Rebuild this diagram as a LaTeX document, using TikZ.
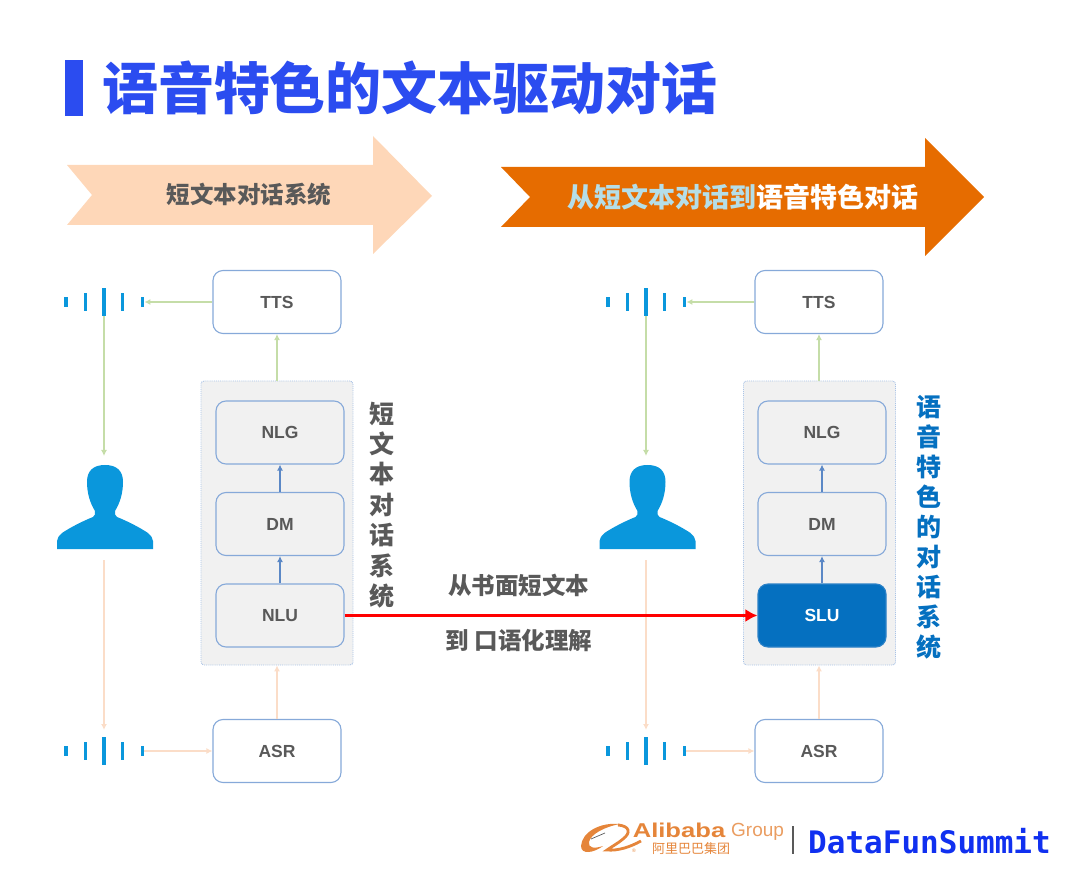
\documentclass[tikz,border=0pt]{standalone}
\usepackage{fontspec}
\setmainfont{Liberation Sans}
\newfontfamily\cjk{Noto Sans CJK SC}
\newfontfamily\logomono{DejaVu Sans Mono}
\usetikzlibrary{arrows.meta}
\definecolor{titleblue}{HTML}{2B4CF0}
\definecolor{textgray}{HTML}{595959}
\definecolor{wireblue}{HTML}{86A9D9}
\definecolor{dotblue}{HTML}{A9C3E6}
\definecolor{darkblue}{HTML}{5B88C6}
\definecolor{boxgray}{HTML}{F1F1F1}
\definecolor{iconblue}{HTML}{0A97DC}
\definecolor{slublue}{HTML}{0570C0}
\definecolor{lightgreen}{HTML}{C5DDA8}
\definecolor{lightpeach}{HTML}{FBDDC8}
\definecolor{peachfill}{HTML}{FED7B8}
\definecolor{orangefill}{HTML}{E66C00}
\definecolor{paleblue}{HTML}{B5DEE8}
\definecolor{aliorange}{HTML}{E5853A}
\definecolor{funblue}{HTML}{1030F0}
\tikzset{
    x=1pt, y=-1pt,
    modbox/.style={draw=wireblue, line width=1.1pt, rounded corners=10pt, fill=#1, minimum width=128pt, minimum height=63pt, inner sep=0pt,
        font=\fontsize{17.5}{20}\selectfont\bfseries, text=textgray},
    modbox/.default=white,
    groupbox/.style={draw=dotblue, densely dotted, line width=0.9pt, rounded corners=3pt, fill=boxgray, minimum width=152pt, minimum height=284pt, inner sep=0pt},
    bar/.style={fill=iconblue, minimum width=3.5pt, inner sep=0pt},
    greenline/.style={-{Latex[length=6pt,width=6pt]}, draw=lightgreen, line width=1.6pt},
    peachline/.style={-{Latex[length=6pt,width=6pt]}, draw=lightpeach, line width=1.6pt},
    blueline/.style={-{Latex[length=6pt,width=6pt]}, draw=darkblue, line width=1.4pt},
    vlabel/.style={font=\fontsize{25}{30.4}\selectfont\cjk\bfseries, align=center, inner sep=0pt},
    midlabel/.style={font=\fontsize{23.5}{26}\selectfont\cjk\bfseries, text=textgray, inner sep=0pt},
    soundwave/.pic={
        \node[bar, minimum height=10pt] (-a) at (-38,0) {};
        \node[bar, minimum height=18pt] (-b) at (-18.5,0) {};
        \node[bar, minimum height=28pt] (-c) at (0,0) {};
        \node[bar, minimum height=18pt] (-d) at (18.5,0) {};
        \node[bar, minimum height=10pt] (-e) at (38.5,0) {};
    },
    person/.pic={
        \fill[iconblue] (0,0) .. controls (12,0) and (18,6) .. (18,17)
            .. controls (18,28) and (15,38) .. (10,46)
            .. controls (10,49) and (10,51) .. (12,52)
            .. controls (22,56) and (34,62) .. (43,68)
            .. controls (46,71) and (48,73) .. (48,76) -- (48,84) -- (-48,84) -- (-48,76)
            .. controls (-48,73) and (-46,71) .. (-43,68)
            .. controls (-34,62) and (-22,56) .. (-12,52)
            .. controls (-10,51) and (-10,49) .. (-10,46)
            .. controls (-15,38) and (-18,28) .. (-18,17)
            .. controls (-18,6) and (-12,0) .. (0,0) -- cycle;
    }
}
\begin{document}
\begin{tikzpicture}
    \useasboundingbox (0,0) rectangle (1080,893);
    % title
    \fill[titleblue] (65,60) rectangle (83,116);
    \node[font=\fontsize{56}{60}\selectfont\cjk\bfseries, text=titleblue, inner sep=0pt] (title) at (410,88) {语音特色的文本驱动对话};
    % banner arrows
    \fill[peachfill] (67,165) -- (373,165) -- (373,136) -- (432,196) -- (373,254) -- (373,225) -- (67,225) -- (92,195) -- cycle;
    \node[font=\fontsize{23.5}{26}\selectfont\cjk\bfseries, text=textgray, inner sep=0pt] (headL) at (249,195) {短文本对话系统};
    \fill[orangefill] (501,167) -- (925,167) -- (925,138) -- (984,197) -- (925,256) -- (925,227) -- (501,227) -- (530,197) -- cycle;
    \node[font=\fontsize{27}{30}\selectfont\cjk\bfseries, text=white, inner sep=0pt] (headR) at (742.5,197) {\textcolor{paleblue}{从短文本对话到}语音特色对话};
    % left system
    \node[groupbox] (groupL) at (277,523) {};
    \node[modbox] (ttsL) at (277,302) {TTS};
    \node[modbox=boxgray] (nlgL) at (280,432.5) {NLG};
    \node[modbox=boxgray] (dmL) at (280,524) {DM};
    \node[modbox=boxgray] (nluL) at (280,615.5) {NLU};
    \node[modbox] (asrL) at (277,751) {ASR};
    \pic (waveTL) at (104,302) {soundwave};
    \pic (waveBL) at (104,751) {soundwave};
    \pic at (105,465) {person};
    \coordinate (footL) at (104,560);
    \coordinate (headtopL) at (104,456);
    \coordinate (waveinL) at (104,730);
    \draw[greenline] (ttsL.west) -- (waveTL-e.east);
    \draw[greenline] (waveTL-c.south) -- (headtopL);
    \draw[peachline] (footL) -- (waveinL);
    \draw[peachline] (waveBL-e.east) -- (asrL.west);
    \draw[peachline] (asrL.north) -- (asrL.north |- groupL.south);
    \draw[greenline] (ttsL.south |- groupL.north) -- (ttsL.south);
    \draw[blueline] (nluL.north) -- (dmL.south);
    \draw[blueline] (dmL.north) -- (nlgL.south);
    \node[vlabel, text=textgray] (sideL) at (381.5,505) {短\\文\\本\\对\\话\\系\\统};
    % right system
    \node[groupbox] (groupR) at (819.5,523) {};
    \node[modbox] (ttsR) at (819,302) {TTS};
    \node[modbox=boxgray] (nlgR) at (822,432.5) {NLG};
    \node[modbox=boxgray] (dmR) at (822,524) {DM};
    \node[modbox=slublue, draw=slublue!70!wireblue, text=white] (sluR) at (822,615.5) {SLU};
    \node[modbox] (asrR) at (819,751) {ASR};
    \pic (waveTR) at (646,302) {soundwave};
    \pic (waveBR) at (646,751) {soundwave};
    \pic at (647.5,465) {person};
    \coordinate (footR) at (646,560);
    \coordinate (headtopR) at (646,456);
    \coordinate (waveinR) at (646,730);
    \draw[greenline] (ttsR.west) -- (waveTR-e.east);
    \draw[greenline] (waveTR-c.south) -- (headtopR);
    \draw[peachline] (footR) -- (waveinR);
    \draw[peachline] (waveBR-e.east) -- (asrR.west);
    \draw[peachline] (asrR.north) -- (asrR.north |- groupR.south);
    \draw[greenline] (ttsR.south |- groupR.north) -- (ttsR.south);
    \draw[blueline] (sluR.north) -- (dmR.south);
    \draw[blueline] (dmR.north) -- (nlgR.south);
    \node[vlabel, text=slublue, font=\fontsize{25}{30}\selectfont\cjk\bfseries] (sideR) at (929,527.5) {语\\音\\特\\色\\的\\对\\话\\系\\统};
    % link between the two
    \draw[-{Latex[length=12pt,width=13pt]}, red, line width=3.5pt] (nluL.east) -- (sluR.west);
    \node[midlabel] (linkA) at (518.5,585) {从书面短文本};
    \node[midlabel] (linkB) at (519,641) {到 口语化理解};
    % footer logos
    \fill[aliorange] (620,824) .. controls (600,822) and (582,832) .. (581,846)
        .. controls (581,855) and (594,853) .. (603,846)
        .. controls (594,849) and (588,848) .. (589,842)
        .. controls (591,834) and (604,827) .. (620,824) -- cycle;
    \draw[aliorange, line width=2.8pt] (618,825) .. controls (630,826) and (631,833) .. (623,839)
        .. controls (617,844) and (611,847) .. (607,850) .. controls (618,851) and (630,847) .. (641,841);
    \draw[textgray, line width=0.7pt] (591,839) -- (605,833);
    \node[xscale=1.28, transform shape, font=\fontsize{20}{22}\selectfont\bfseries, text=aliorange, inner sep=0pt, anchor=center] (alibaba) at (679,830.5) {Alibaba};
    \node[font=\fontsize{19}{22}\selectfont, text=aliorange!80!white, inner sep=0pt, anchor=west] (group) at (731,832) {Group};
    \node[font=\fontsize{13}{15}\selectfont\cjk, text=aliorange, inner sep=0pt, anchor=west] (alicn) at (652,848.5) {阿里巴巴集团};
    \node[font=\fontsize{5}{6}\selectfont, text=aliorange, inner sep=0pt] (reg) at (634,851) {®};
    \draw[textgray, line width=1.2pt] (793,826) -- (793,854);
    \node[font=\fontsize{31}{34}\selectfont\logomono\bfseries, text=funblue, inner sep=0pt, anchor=west] (datafun) at (808,841) {DataFunSummit};
\end{tikzpicture}
\end{document}
